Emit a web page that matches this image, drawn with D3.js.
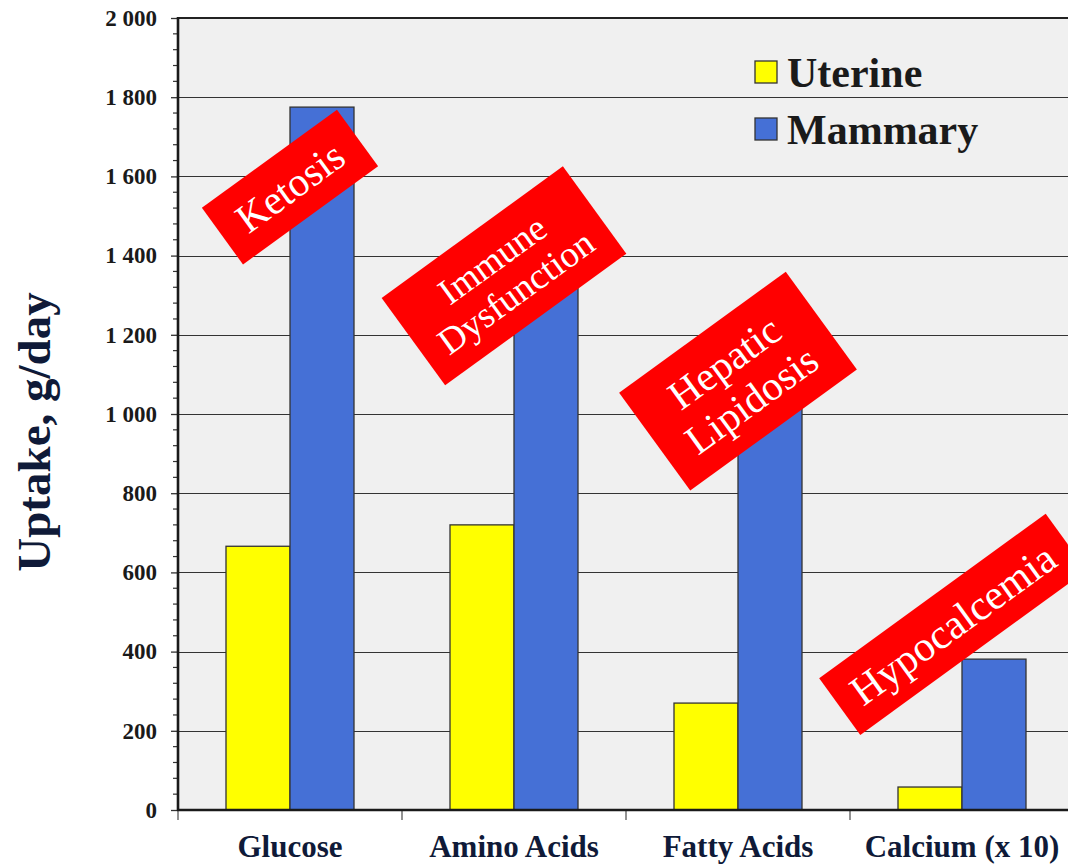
<!DOCTYPE html>
<html>
<head>
<meta charset="utf-8">
<script src="https://cdn.jsdelivr.net/npm/d3@7"></script>
<style>
  html, body { margin: 0; padding: 0; background: #ffffff; }
  svg { display: block; }
</style>
</head>
<body>
<svg id="chart" width="1068" height="864"></svg>
<script>
// ---- data ----
const categories = ["Glucose", "Amino Acids", "Fatty Acids", "Calcium (x 10)"];
const seriesNames = ["Uterine", "Mammary"];
const uterine = [666, 720, 270, 58];
const mammary = [1775, 1360, 1040, 381];
const yTickValues = [0, 200, 400, 600, 800, 1000, 1200, 1400, 1600, 1800, 2000];
const yTitle = "Uptake, g/day";
const annotationTexts = [["Ketosis"], ["Immune", "Dysfunction"], ["Hepatic", "Lipidosis"], ["Hypocalcemia"]];
const annotationAnchors = [1573, 1349, 1083, 469]; // value at box centre

// ---- layout / style ----
const W = 1068, H = 864;
const plotLeft = 178, plotTop = 18, plotBottom = 810, plotRightEnd = 1074;
const colors = ["#ffff00", "#4570d6"];
const serif = "'Liberation Serif', 'Times New Roman', serif";
const annGeom = [
  { dx: 0,   w: 167, h: 70,  fs: 41, lh: 40 },
  { dx: -10, w: 224, h: 108, fs: 37, lh: 40 },
  { dx: 0,   w: 206, h: 121, fs: 41, lh: 46 },
  { dx: -9,  w: 280, h: 70,  fs: 42, lh: 40 }
];

const svg = d3.select("#chart");

const y = d3.scaleLinear().domain([0, 2000]).range([plotBottom, plotTop]);
const x0 = d3.scaleBand().domain(categories).range([plotLeft, plotRightEnd]).paddingInner(0).paddingOuter(0);
const x1 = d3.scaleBand().domain(seriesNames).range([0, x0.bandwidth()]).paddingInner(0).paddingOuter(0.75);

// plot background
svg.append("rect").attr("x", plotLeft).attr("y", plotTop).attr("width", W - plotLeft).attr("height", plotBottom - plotTop)
  .attr("fill", "#f0f0f0");

// gridlines
svg.append("g").selectAll("line").data(yTickValues.filter(v => v > 0 && v < 2000)).join("line")
  .attr("x1", plotLeft).attr("x2", W)
  .attr("y1", d => Math.round(y(d)) + 0.5).attr("y2", d => Math.round(y(d)) + 0.5)
  .attr("stroke", "#333").attr("stroke-width", 1.2);

// top border
svg.append("line").attr("x1", plotLeft).attr("x2", W).attr("y1", y(2000)).attr("y2", y(2000))
  .attr("stroke", "#222").attr("stroke-width", 2.2);

// bars
const rows = categories.map((c, i) => ({ cat: c, vals: [uterine[i], mammary[i]] }));
const groups = svg.append("g").selectAll("g").data(rows).join("g")
  .attr("transform", d => `translate(${x0(d.cat)},0)`);
groups.selectAll("rect").data(d => d.vals.map((v, j) => ({ s: seriesNames[j], v, j }))).join("rect")
  .attr("x", d => x1(d.s)).attr("width", x1.bandwidth())
  .attr("y", d => y(d.v)).attr("height", d => y(0) - y(d.v))
  .attr("fill", d => colors[d.j]).attr("stroke", "#333").attr("stroke-width", 1.3);

// y axis
const fmt = d3.formatLocale({ decimal: ".", thousands: " ", grouping: [3], currency: ["", ""] }).format(",");
const yAxis = svg.append("g").attr("transform", `translate(${plotLeft},0)`)
  .call(d3.axisLeft(y).tickValues(yTickValues).tickFormat(fmt).tickSize(7).tickPadding(14));
yAxis.select(".domain").remove();
yAxis.selectAll(".tick line").attr("stroke", "#333").attr("stroke-width", 1.3);
yAxis.selectAll(".tick text").attr("font-family", serif).attr("font-weight", "bold")
  .attr("font-size", 23).attr("fill", "#1a1a1a");
// minor ticks
svg.append("g").selectAll("line").data(d3.range(0, 2001, 40).filter(v => v % 200 !== 0)).join("line")
  .attr("x1", plotLeft - 5).attr("x2", plotLeft)
  .attr("y1", d => y(d)).attr("y2", d => y(d))
  .attr("stroke", "#333").attr("stroke-width", 1.2);
svg.append("line").attr("x1", plotLeft).attr("x2", plotLeft).attr("y1", plotTop - 1).attr("y2", plotBottom + 1)
  .attr("stroke", "#1a1a1a").attr("stroke-width", 2.6);

// x axis
const xAxis = svg.append("g").attr("transform", `translate(0,${plotBottom})`)
  .call(d3.axisBottom(x0).tickSize(0).tickPadding(25));
xAxis.select(".domain").remove();
xAxis.selectAll(".tick text").attr("font-family", serif).attr("font-weight", "bold")
  .attr("font-size", 31).attr("fill", "#0f1a38");
svg.append("g").selectAll("line").data(categories).join("line")
  .attr("x1", d => x0(d)).attr("x2", d => x0(d)).attr("y1", plotBottom).attr("y2", plotBottom + 10)
  .attr("stroke", "#777").attr("stroke-width", 1.6);
svg.append("line").attr("x1", plotLeft - 1).attr("x2", W).attr("y1", plotBottom).attr("y2", plotBottom)
  .attr("stroke", "#1a1a1a").attr("stroke-width", 2.6);

// y title
svg.append("text").attr("transform", `translate(50,${(y(0) + y(2000)) / 2 + 18}) rotate(-90)`)
  .attr("text-anchor", "middle").attr("font-family", serif).attr("font-weight", "bold")
  .attr("font-size", 47).attr("fill", "#0f1a38").text(yTitle);

// legend
const legend = svg.append("g");
seriesNames.forEach((s, i) => {
  const ly = 61 + i * 57;
  legend.append("rect").attr("x", 755).attr("y", ly).attr("width", 22).attr("height", 22)
    .attr("fill", colors[i]).attr("stroke", "#333").attr("stroke-width", 1.3);
  legend.append("text").attr("x", 787).attr("y", ly + 26).attr("font-family", serif)
    .attr("font-weight", "bold").attr("font-size", 42).attr("fill", "#1a1a1a").text(s);
});

// annotations
const ann = svg.append("g");
annotationTexts.forEach((lines, i) => {
  const g = annGeom[i];
  const cx = x0(categories[i]) + x0.bandwidth() / 2 + g.dx;
  const cy = y(annotationAnchors[i]);
  const a = ann.append("g").attr("transform", `translate(${cx},${cy}) rotate(-36)`);
  a.append("rect").attr("x", -g.w / 2).attr("y", -g.h / 2).attr("width", g.w).attr("height", g.h)
    .attr("fill", "#ff0000");
  lines.forEach((t, k) => {
    const off = (k - (lines.length - 1) / 2) * g.lh;
    a.append("text").attr("x", 0).attr("y", off).attr("dy", "0.34em")
      .attr("text-anchor", "middle").attr("font-family", serif)
      .attr("font-size", g.fs).attr("fill", "#ffffff").text(t);
  });
});
</script>
</body>
</html>
